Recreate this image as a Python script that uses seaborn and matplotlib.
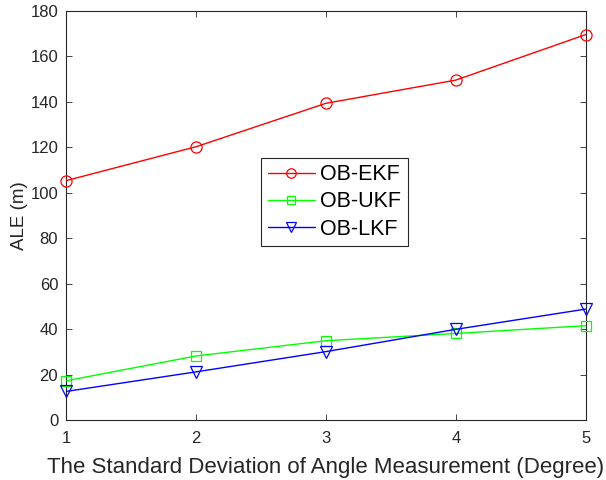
import matplotlib
matplotlib.use("Agg")
import matplotlib.pyplot as plt
import seaborn as sns
import pandas as pd

# Angle measurement standard deviation (degree)
sigma = [1, 2, 3, 4, 5]

# Average localization error (m) for each filter
ale_ekf = [105.4, 120.3, 139.4, 149.6, 169.6]
ale_ukf = [17.3, 28.2, 34.9, 38.1, 41.5]
ale_lkf = [12.6, 21.2, 30.1, 39.9, 48.8]

series_names = ["OB-EKF", "OB-UKF", "OB-LKF"]
series_colors = ["#ff0000", "#00ff00", "#0000ff"]
series_markers = ["o", "s", "v"]

sns.set_theme(style="ticks")
plt.rcParams["font.family"] = ["Liberation Sans", "DejaVu Sans"]

dark = "#262626"
fig = plt.figure(figsize=(6.06, 4.8), dpi=100)
ax = fig.add_axes([0.1097, 0.125, 0.8565, 0.852])

for name, vals, col, mk in zip(series_names, [ale_ekf, ale_ukf, ale_lkf],
                               series_colors, series_markers):
    df = pd.DataFrame({"sigma": sigma, "ale": vals})
    sns.lineplot(data=df, x="sigma", y="ale", ax=ax, color=col, marker=mk,
                 markersize=8 if mk != "s" else 7, markerfacecolor="none",
                 markeredgecolor=col, markeredgewidth=0.9, linewidth=1.0,
                 label=name, clip_on=False, zorder=3)

ax.set_xlim(1, 5)
ax.set_ylim(0, 180)
ax.set_xticks([1, 2, 3, 4, 5])
ax.set_yticks(range(0, 181, 20))
ax.tick_params(direction="in", top=True, right=True, length=4, width=0.6,
               colors=dark, labelsize=12, labelcolor=dark, pad=6)
ax.tick_params(axis="x", pad=8)
for sp in ax.spines.values():
    sp.set_color(dark)
    sp.set_linewidth(0.8)

ax.set_xlabel("The Standard Deviation of Angle Measurement (Degree)",
              fontsize=16, color=dark, labelpad=8)
ax.set_ylabel("ALE (m)", fontsize=13.5, color=dark, labelpad=1.5)

leg = ax.legend(loc="center", bbox_to_anchor=(334.5 / 606, 1 - 202 / 480),
                bbox_transform=fig.transFigure, fontsize=15.5, frameon=True,
                fancybox=False, framealpha=1, edgecolor=dark,
                handlelength=2.2, handletextpad=0.25, borderpad=0.3,
                labelspacing=0.3, borderaxespad=0, markerscale=0.85)
leg.get_frame().set_linewidth(0.8)
for t in leg.get_texts():
    t.set_color("black")

fig.savefig("out.png", dpi=100)
